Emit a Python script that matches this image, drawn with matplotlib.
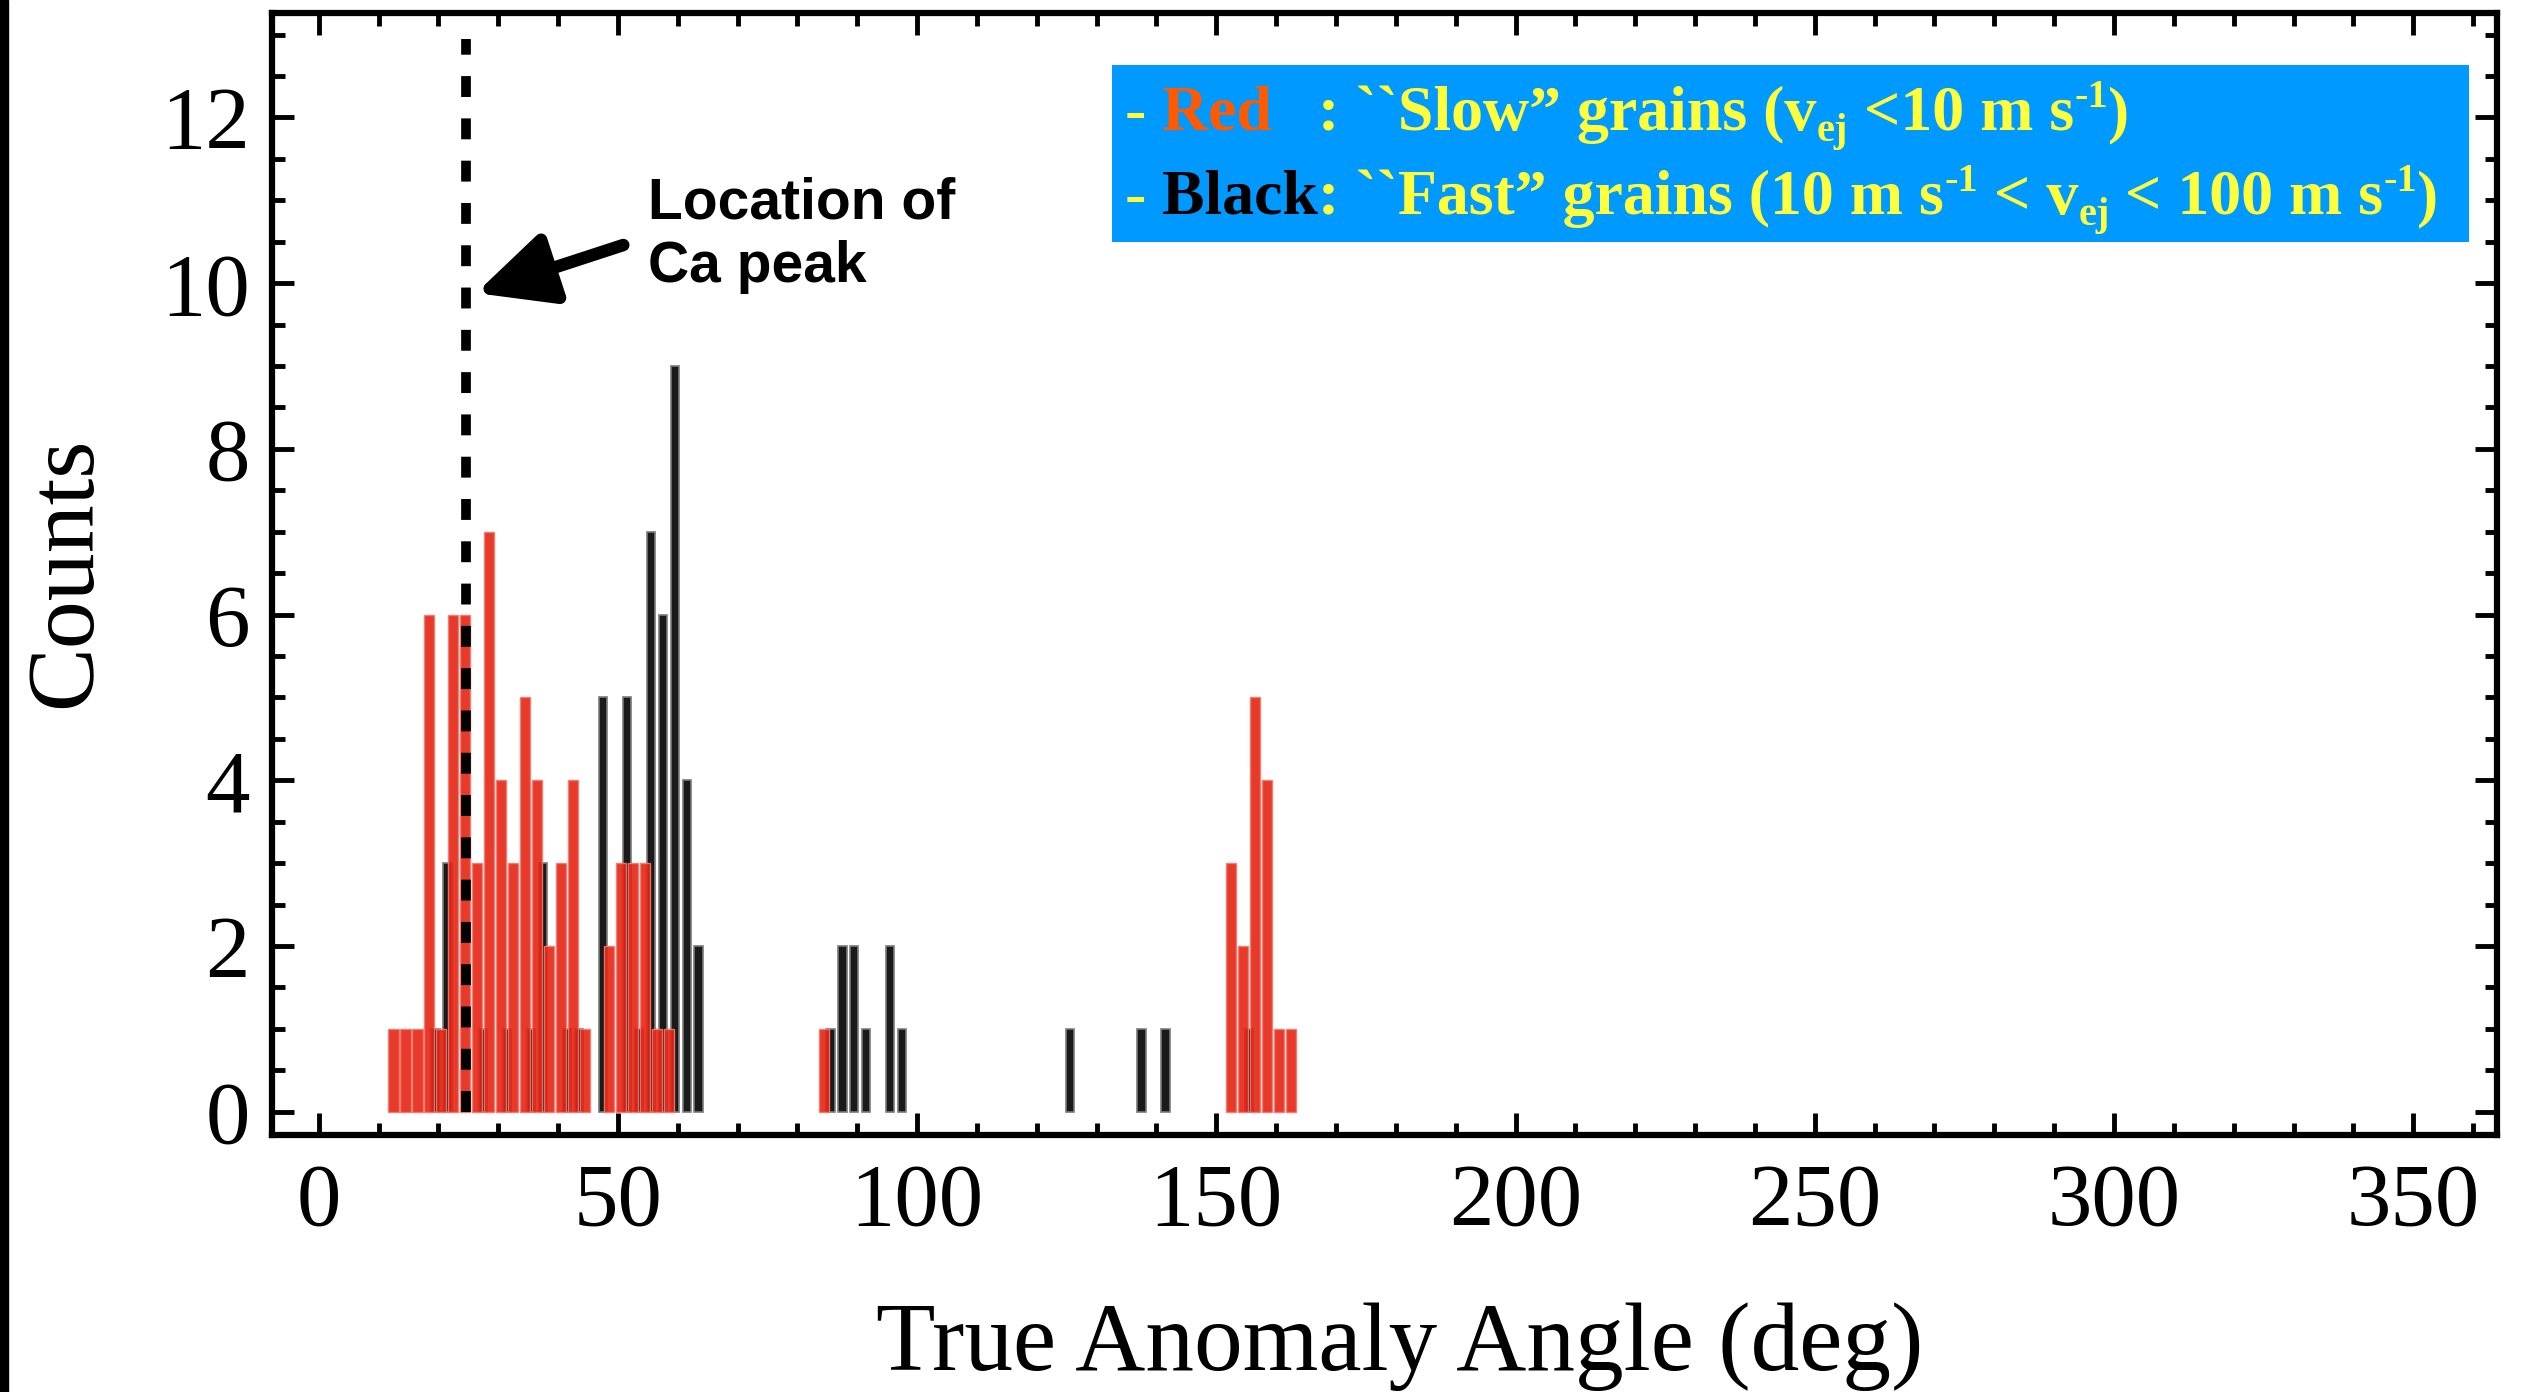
import numpy as np
import matplotlib
matplotlib.use("Agg")
import matplotlib.pyplot as plt
from matplotlib.patches import Rectangle
from matplotlib.ticker import MultipleLocator

# histogram bins (deg) and counts
red_centers = [12.5, 14.5, 16.5, 18.5, 20.5, 22.5, 24.5, 26.5, 28.5, 30.5, 32.5, 34.5,
               36.5, 38.5, 40.5, 42.5, 44.5, 48.5, 50.5, 52.5, 54.5, 56.5, 58.5, 84.5,
               152.5, 154.5, 156.5, 158.5, 160.5, 162.5]
red_counts = [1, 1, 1, 6, 1, 6, 6, 3, 7, 4, 3, 5,
              4, 2, 3, 4, 1, 2, 3, 3, 3, 1, 1, 1,
              3, 2, 5, 4, 1, 1]

black_centers = [19.5, 21.5, 27.5, 31.5, 35.5, 37.5, 41.5, 43.5, 47.5, 51.5, 53.5, 55.5,
                 57.5, 59.5, 61.5, 63.5, 85.5, 87.5, 89.5, 91.5, 95.5, 97.5, 125.5, 137.5,
                 141.5, 155.5]
black_counts = [1, 3, 1, 1, 1, 3, 1, 1, 5, 5, 1, 7,
                6, 9, 4, 2, 1, 2, 2, 1, 2, 1, 1, 1,
                1, 1]

ca_peak = 24.6

W, H = 2534, 1392
plt.rcParams['font.family'] = 'Liberation Serif'

fig = plt.figure(figsize=(W / 100, H / 100), dpi=100)
ax = fig.add_axes([272 / W, 1 - 1135 / H, (2497 - 272) / W, (1135 - 13) / H])

ax.bar(black_centers, black_counts, width=1.4, color='#1a1a1a', edgecolor='#7a7a7a',
       linewidth=1.2, zorder=2)
ax.bar(red_centers, red_counts, width=1.7, color='#e62414', edgecolor='#f27a70',
       linewidth=1.0, alpha=0.9, zorder=3)

ax.plot([ca_peak, ca_peak], [0, 12.95], color='k', lw=7, ls=(0, (2.15, 2.2)), zorder=4)

ax.annotate('', xy=(26.3, 9.88), xytext=(50.9, 10.46),
            arrowprops=dict(arrowstyle='-|>,head_length=2.3,head_width=1.1', mutation_scale=20,
                            lw=9, color='k', shrinkA=0, shrinkB=0), zorder=5)
ax.text(55.0, 10.78, 'Location of', fontsize=41, fontweight='bold',
        family='Liberation Sans', va='baseline')
ax.text(55.0, 10.01, 'Ca peak', fontsize=41, fontweight='bold',
        family='Liberation Sans', va='baseline')

ax.set_xlim(-7.8, 364)
ax.set_ylim(-0.28, 13.26)
ax.xaxis.set_major_locator(MultipleLocator(50))
ax.xaxis.set_minor_locator(MultipleLocator(10))
ax.yaxis.set_major_locator(MultipleLocator(2))
ax.yaxis.set_minor_locator(MultipleLocator(0.5))
ax.tick_params(which='both', direction='in', top=True, right=True, width=3.5)
ax.tick_params(which='major', length=16)
ax.tick_params(which='minor', length=9)
ax.tick_params(axis='x', labelsize=64, pad=20)
ax.tick_params(axis='y', labelsize=64, pad=16)
for s in ax.spines.values():
    s.set_linewidth(4.5)

fig.text(1400 / W, 1 - 1370 / H, 'True Anomaly Angle (deg)', fontsize=70,
         ha='center', va='baseline')
fig.text(90 / W, 1 - 572 / H, 'Counts', fontsize=69, rotation=90,
         rotation_mode='anchor', ha='center', va='baseline')

# black strip on the left edge of the original image
fig.add_artist(Rectangle((0, 0), 8 / W, 1, transform=fig.transFigure, color='k', zorder=2))

# legend box
fig.add_artist(Rectangle((1112 / W, 1 - 242 / H), (2469 - 1112) / W, (242 - 65) / H,
                         transform=fig.transFigure, facecolor='#0099ff', edgecolor='none',
                         zorder=2))

yellow = '#ffff3c'
renderer = fig.canvas.get_renderer()


def put_line(x, y, pieces):
    starts = []
    for s, color, size, dy in pieces:
        starts.append(x)
        t = fig.text(x / W, (H - y + dy) / H, s, color=color, fontsize=size,
                     fontweight='bold', family='Liberation Serif', va='baseline',
                     ha='left', zorder=4)
        x = t.get_window_extent(renderer).x1
    return starts


big, small = 46, 29
up, down = 23, -11
line2 = [('-', yellow, big, 0), (' Black', 'k', big, 0),
         (': ``Fast\u201d grains (10 m s', yellow, big, 0), ('-1', yellow, small, up),
         (' < v', yellow, big, 0), ('ej', yellow, small, down),
         (' < 100 m s', yellow, big, 0), ('-1', yellow, small, up), (')', yellow, big, 0)]
starts = put_line(1125, 214, line2)
colon_x = starts[2]

put_line(1125, 130, [('-', yellow, big, 0), (' Red', '#ff5a00', big, 0)])
put_line(colon_x, 130, [(': ``Slow\u201d grains (v', yellow, big, 0), ('ej', yellow, small, down),
                        (' <10 m s', yellow, big, 0), ('-1', yellow, small, up),
                        (')', yellow, big, 0)])

fig.savefig('out.png', dpi=100)
